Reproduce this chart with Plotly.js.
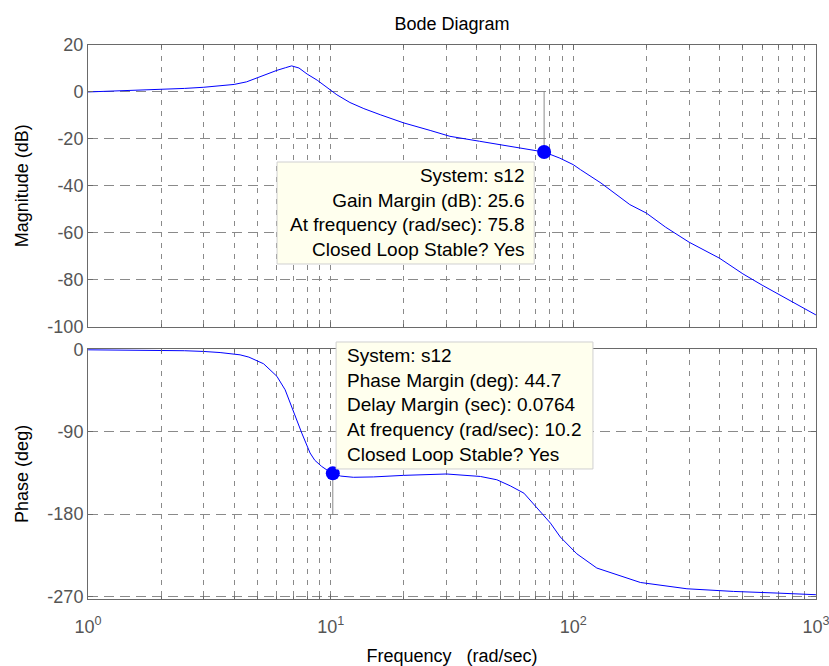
<!DOCTYPE html>
<html>
<head>
<meta charset="utf-8">
<script src="https://cdn.plot.ly/plotly-3.0.1.min.js"></script>
<style>html,body{margin:0;padding:0;background:#fff;}#chart{width:829px;height:666px;}</style>
</head>
<body>
<div id="chart"></div>
<script>
// ---- data ----
const freqMag = [1, 1.5, 2, 2.5, 3, 3.5, 4, 4.5, 5, 5.5, 6, 6.5, 6.9, 7.4, 8, 8.8, 9.4, 10, 10.6, 12, 13.7, 16, 20, 25.7, 31, 41, 50, 57, 67, 75.8, 88, 100, 107, 130, 171, 200, 240, 300, 400, 500, 600, 800, 1000];
const magDb   = [0, 0.6, 1.0, 1.5, 2.0, 2.6, 3.2, 4.3, 6.2, 7.7, 9.2, 10.3, 11.1, 10.2, 7.6, 5.0, 2.8, 0.7, -1.2, -4.5, -7.1, -9.7, -13.2, -16.4, -18.9, -21.0, -22.5, -23.5, -24.8, -25.6, -28.2, -31, -33.1, -38.8, -48, -51.6, -57.6, -64, -70.8, -77.5, -82.3, -89.5, -95];

const freqPhase = [1, 2, 2.5, 3, 3.5, 4.23, 4.6, 5.29, 6.0, 6.49, 7.04, 7.6, 8.22, 8.6, 9.18, 10.05, 11, 12.4, 15, 20, 30, 41.4, 48.4, 55, 62.6, 73.2, 80.5, 88.4, 103.4, 125, 189, 294, 457, 692, 1000];
const phaseDeg  = [0, -0.5, -1, -1.8, -3, -5.5, -8, -15.3, -29, -43.8, -69.3, -91.2, -113, -121, -127.7, -134.8, -138.3, -139.6, -139.2, -137.5, -136, -138.7, -142.3, -149, -157, -177, -189.8, -205, -223.4, -239, -254.8, -261.7, -264.6, -266.4, -268.2];

// stability margins
const gmFreq = 75.8;   // rad/sec
const gmMag  = -25.6;  // dB  (gain margin 25.6 dB)
const pmFreq = 10.2;   // rad/sec
const pmPhase = -135.3; // deg (phase margin 44.7 deg)

// tick labels
const xTickVals = [1, 10, 100, 1000];
const xTickText = ['10<sup>0</sup>', '10<sup>1</sup>', '10<sup>2</sup>', '10<sup>3</sup>'];
const xMinorVals = [2,3,4,5,6,7,8,9,20,30,40,50,60,70,80,90,200,300,400,500,600,700,800,900];
const magTicks = [20, 0, -20, -40, -60, -80, -100];
const magTickText = ['20', '0', '-20', '-40', '-60', '-80', '-100'];
const phaseTicks = [0, -90, -180, -270];
const phaseTickText = ['0', '-90', '-180', '-270'];

const gmText = 'System: s12<br>Gain Margin (dB): 25.6<br>At frequency (rad/sec): 75.8<br>Closed Loop Stable? Yes';
const pmText = 'System: s12<br>Phase Margin (deg): 44.7<br>Delay Margin (sec): 0.0764<br>At frequency (rad/sec): 10.2<br>Closed Loop Stable? Yes';

// ---- plot ----
const blue = '#0000ff';
const gridC = '#8a8a8a';
const lineC = '#6a6a6a';
const FONT = 'Liberation Sans, Arial, sans-serif';

const traces = [
  {x: freqMag, y: magDb, xaxis: 'x', yaxis: 'y', mode: 'lines', line: {color: blue, width: 1}},
  {x: [gmFreq, gmFreq], y: [0, gmMag], xaxis: 'x', yaxis: 'y', mode: 'lines', line: {color: '#8c8c8c', width: 1}},
  {x: [gmFreq], y: [gmMag], xaxis: 'x', yaxis: 'y', mode: 'markers', marker: {color: blue, size: 14}},
  {x: freqPhase, y: phaseDeg, xaxis: 'x2', yaxis: 'y2', mode: 'lines', line: {color: blue, width: 1}},
  {x: [pmFreq, pmFreq], y: [-180, pmPhase], xaxis: 'x2', yaxis: 'y2', mode: 'lines', line: {color: '#8c8c8c', width: 1}},
  {x: [pmFreq], y: [pmPhase], xaxis: 'x2', yaxis: 'y2', mode: 'markers', marker: {color: blue, size: 14}}
];

function xAxis(anchor, labels) {
  return {
    type: 'log', range: [-0.0004, 3.0004], anchor: anchor,
    tickmode: 'array', tickvals: xTickVals, ticktext: xTickText,
    showticklabels: labels,
    ticklabeloverflow: 'allow',
    ticks: 'inside', ticklen: 5, tickcolor: lineC,
    showline: true, linecolor: lineC, linewidth: 1, mirror: 'ticks',
    showgrid: true, gridcolor: gridC, griddash: '5px,6px', gridwidth: 1,
    minor: {tickmode: 'array', tickvals: xMinorVals, ticks: 'inside', ticklen: 3, tickcolor: lineC,
            showgrid: true, gridcolor: gridC, griddash: '5px,6px', gridwidth: 1},
    zeroline: false,
    tickfont: {family: FONT, size: 18, color: '#555'},
    ticklabelstandoff: 11,
    fixedrange: true
  };
}

const layout = {
  width: 829, height: 666,
  margin: {l: 88, r: 13, t: 45, b: 67},
  paper_bgcolor: '#ffffff', plot_bgcolor: '#ffffff',
  showlegend: false,
  font: {family: FONT, size: 18, color: '#000'},
  title: {text: 'Bode Diagram', font: {family: FONT, size: 18, color: '#000'},
          x: 0.5, xref: 'paper', xanchor: 'center', y: 1 - 24/666, yanchor: 'middle'},
  xaxis: xAxis('y', false),
  xaxis2: Object.assign(xAxis('y2', true), {
    title: {text: 'Frequency\u00a0\u00a0\u00a0(rad/sec)', font: {family: FONT, size: 18, color: '#000'}, standoff: 14}
  }),
  yaxis: {
    domain: [0.4916, 1], range: [-100, 20], anchor: 'x',
    tickmode: 'array', tickvals: magTicks, ticktext: magTickText,
    ticks: 'inside', ticklen: 5, tickcolor: lineC,
    showline: true, linecolor: lineC, linewidth: 1, mirror: 'ticks',
    showgrid: true, gridcolor: gridC, griddash: '10px,6px', gridwidth: 1,
    zeroline: false,
    tickfont: {family: FONT, size: 18, color: '#555'},
    ticklabelstandoff: 0,
    title: {text: 'Magnitude (dB)', font: {family: FONT, size: 18, color: '#000'}, standoff: 14},
    fixedrange: true
  },
  yaxis2: {
    domain: [0, 0.4516], range: [-272.9, 1.1], anchor: 'x2',
    tickmode: 'array', tickvals: phaseTicks, ticktext: phaseTickText,
    ticks: 'inside', ticklen: 5, tickcolor: lineC,
    showline: true, linecolor: lineC, linewidth: 1, mirror: 'ticks',
    showgrid: true, gridcolor: gridC, griddash: '10px,6px', gridwidth: 1,
    zeroline: false,
    tickfont: {family: FONT, size: 18, color: '#555'},
    ticklabelstandoff: 0,
    title: {text: 'Phase (deg)', font: {family: FONT, size: 18, color: '#000'}, standoff: 14},
    fixedrange: true
  },
  shapes: [
    {type: 'rect', xref: 'paper', yref: 'paper', x0: 0.2597, x1: 0.6129, y0: 0.6047, y1: 0.7888,
     fillcolor: '#ffffee', line: {color: '#d0d0d0', width: 1}, layer: 'above'},
    {type: 'rect', xref: 'paper', yref: 'paper', x0: 0.3408, x1: 0.6936, y0: 0.2347, y1: 0.4639,
     fillcolor: '#ffffee', line: {color: '#d0d0d0', width: 1}, layer: 'above'}
  ],
  annotations: [
    {text: gmText, xref: 'paper', yref: 'paper', x: 0.6019, y: 0.6968, xanchor: 'right', yanchor: 'middle',
     align: 'right', showarrow: false, font: {family: FONT, size: 19, color: '#000'}},
    {text: pmText, xref: 'paper', yref: 'paper', x: 0.3532, y: 0.3508, xanchor: 'left', yanchor: 'middle',
     align: 'left', showarrow: false, font: {family: FONT, size: 19, color: '#000'}}
  ]
};

Plotly.newPlot('chart', traces, layout, {staticPlot: true, displayModeBar: false});
</script>
</body>
</html>
